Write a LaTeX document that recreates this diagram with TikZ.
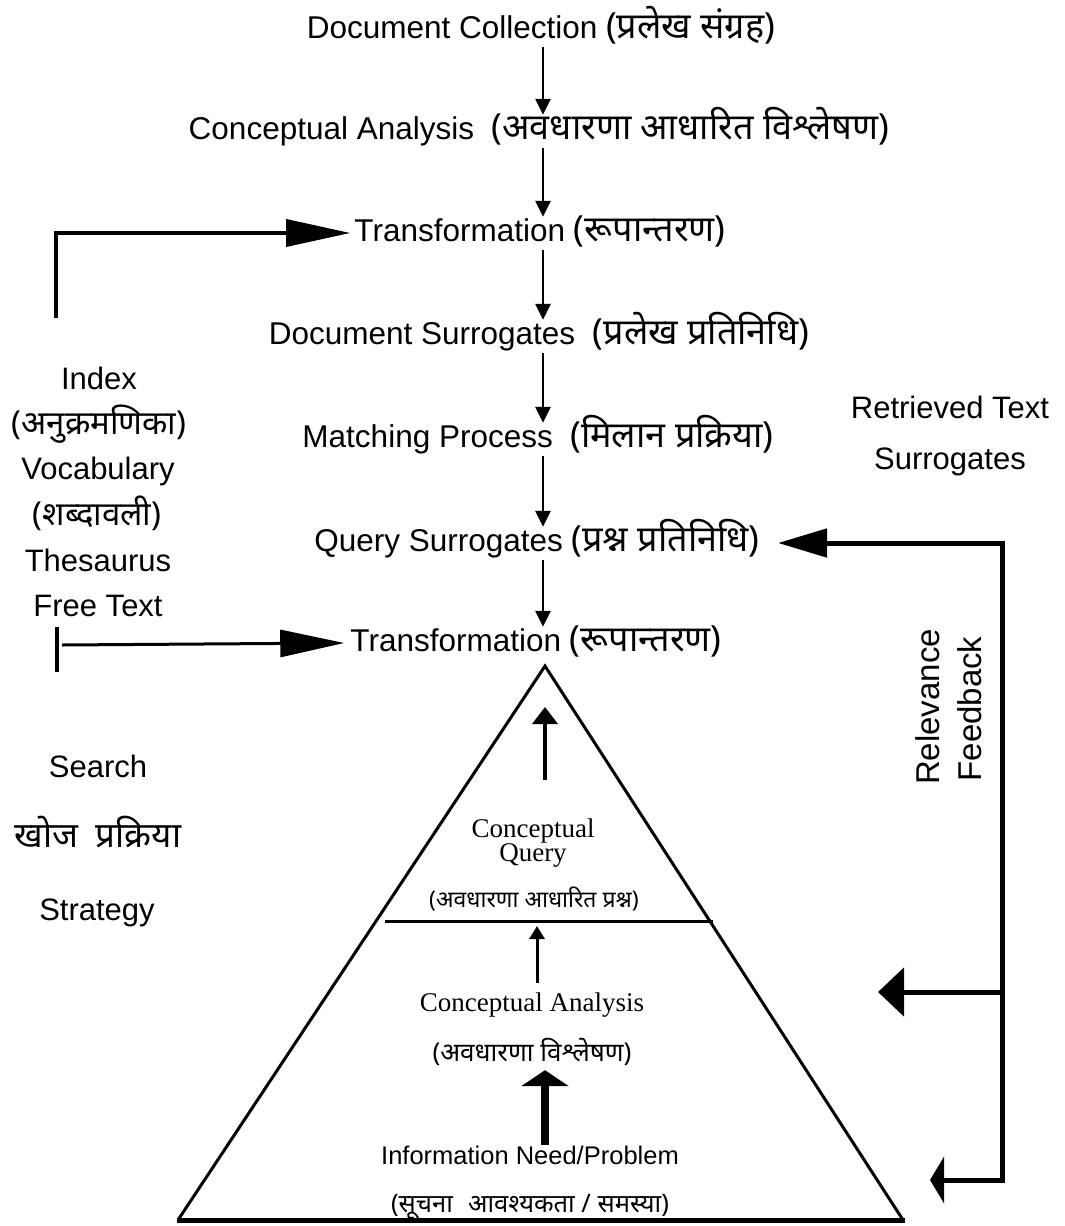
\documentclass[tikz,border=0pt]{standalone}
\usepackage{fontspec}
\setmainfont{Liberation Sans}
\newfontfamily\dev[Script=Devanagari]{Noto Sans}
\newfontfamily\rmserif{Liberation Serif}
\usetikzlibrary{arrows.meta}
% Devanagari part of a bilingual label, set a little larger than the Latin part
\newcommand\hin[1]{{\fontsize{36}{40}\selectfont\dev #1}}

\begin{document}
\begin{tikzpicture}[x=1pt,y=-1pt,
  lbl/.style={inner sep=0pt, font=\fontsize{31.5}{36}\selectfont, text height=23pt, text depth=7pt},
  side/.style={inner sep=0pt, font=\fontsize{31}{36}\selectfont, text height=23pt, text depth=7pt},
  sideh/.style={inner sep=0pt, font=\fontsize{33}{38}\selectfont\dev, text height=23pt, text depth=7pt},
  spine/.style={line width=2.5pt, -{Triangle[length=16pt,width=15pt]}, shorten <=2pt, shorten >=1pt},
  bigarrow/.style={line width=3.5pt, -{Triangle[length=64pt,width=27pt]}},
  fbline/.style={line width=5pt},
  pyr/.style={line width=3pt},
]
\path[use as bounding box] (0,0) rectangle (1065,1226);
\coordinate (axis) at (543,0);

% central processing chain
\node[lbl] (dc)  at (541,30)  {Document Collection \hin{(प्रलेख संग्रह)}};
\node[lbl] (ca)  at (539,131) {Conceptual Analysis \ \hin{(अवधारणा आधारित विश्लेषण)}};
\node[lbl] (tr1) at (540,233) {Transformation \hin{(रूपान्तरण)}};
\node[lbl] (ds)  at (539,336) {Document Surrogates \ \hin{(प्रलेख प्रतिनिधि)}};
\node[lbl] (mp)  at (538,439) {Matching Process \ \hin{(मिलान प्रक्रिया)}};
\node[lbl] (qs)  at (537,543) {Query Surrogates \hin{(प्रश्न प्रतिनिधि)}};
\node[lbl] (tr2) at (536,643) {Transformation \hin{(रूपान्तरण)}};

\draw[spine] (dc.south -| axis) -- (ca.north -| axis);
\draw[spine] (ca.south -| axis) -- (tr1.north -| axis);
\draw[spine] (tr1.south -| axis) -- (ds.north -| axis);
\draw[spine] (ds.south -| axis) -- (mp.north -| axis);
\draw[spine] (mp.south -| axis) -- (qs.north -| axis);
\draw[spine] (qs.south -| axis) -- (tr2.north -| axis);

% left column: indexing languages
\node[side]  (idx)  at (99,381) {Index};
\node[sideh] (idxh) at (99,426) {(अनुक्रमणिका)};
\node[side]  (voc)  at (98,471) {Vocabulary};
\node[sideh] (voch) at (97,517) {(शब्दावली)};
\node[side]  (ths)  at (98,563) {Thesaurus};
\node[side]  (ftx)  at (98,608) {Free Text};

\coordinate (ltop) at (56,318);
\draw[bigarrow, line join=miter] (ltop) -- (ltop |- tr1.west) -- ([xshift=-4pt]tr1.west);

\coordinate (tk) at (57,645);
\draw[line width=3.5pt] ([yshift=18pt]tk) -- ([yshift=-27pt]tk);
\draw[bigarrow, line width=3pt] ([xshift=5pt]tk) -- ([xshift=-6pt]tr2.west);

% left column: search strategy
\node[side]  (srch) at (98,769) {Search};
\node[sideh, font=\fontsize{35}{40}\selectfont\dev] (khoj) at (98,839) {खोज\hspace{0.5em}प्रक्रिया};
\node[side]  (strt) at (97,912) {Strategy};

% right side: retrieved surrogates and relevance feedback
\node[side] (rt1) at (950,410) {Retrieved Text};
\node[side] (rt2) at (950,461) {Surrogates};
\node[side, font=\fontsize{33}{38}\selectfont, rotate=90] (rel) at (931,707) {Relevance};
\node[side, font=\fontsize{33}{38}\selectfont, rotate=90] (fdb) at (973,709) {Feedback};

\coordinate (fbtop) at (1002,543);
\coordinate (fbmid) at (1002,992);
\coordinate (fbbot) at (1002,1180);
\coordinate (qtip) at (778,543);
\coordinate (tipA) at (878,992);
\coordinate (tipB) at (930,1180);
\draw[fbline, line join=miter, -{Triangle[length=49pt,width=28pt]}]
  ([yshift=-2.5pt]fbbot) -- (fbtop) -- (qtip);
\draw[fbline, -{Triangle[length=26pt,width=48pt]}] (fbmid) -- (tipA);
\draw[fbline, -{Triangle[length=14pt,width=46pt]}] (fbbot) -- (tipB);

% query formulation pyramid
\coordinate (apex) at (545,666);
\coordinate (bl) at (178,1220);
\coordinate (br) at (903,1220);
\coordinate (mlL) at (385,921);
\coordinate (mlR) at (713,921);
\draw[pyr, line join=miter] (bl) -- (apex) -- (br);
\draw[line width=5pt] ([xshift=-1pt]bl) -- ([xshift=2pt]br);
\draw[pyr] (mlL) -- (mlR);

\node[inner sep=0pt, font=\fontsize{27}{15}\selectfont\rmserif, align=center] (cq) at (533,843) {Conceptual\\Query};
\node[inner sep=0pt, font=\fontsize{23}{27}\selectfont\dev, text height=16pt, text depth=5pt] (cqh) at (534,902) {(अवधारणा आधारित प्रश्न)};
\node[inner sep=0pt, font=\fontsize{27}{31}\selectfont\rmserif, text height=18pt, text depth=6pt] (can) at (532,1005) {Conceptual Analysis};
\node[inner sep=0pt, font=\fontsize{26}{30}\selectfont\dev, text height=18pt, text depth=6pt] (canh) at (532,1055) {(अवधारणा विश्लेषण)};
\node[inner sep=0pt, font=\fontsize{25.5}{30}\selectfont, text height=18pt, text depth=6pt] (inp) at (530,1158) {Information Need/Problem};
\node[inner sep=0pt, font=\fontsize{25.5}{30}\selectfont\dev, text height=18pt, text depth=6pt] (inph) at (530,1206) {(सूचना\hspace{0.6em}आवश्यकता / समस्या)};

\draw[line width=4pt, -{Triangle[length=17pt,width=25pt]}, shorten <=38pt, shorten >=41pt]
  (cq.north -| apex) -- (apex);
\draw[line width=3pt, -{Triangle[length=13pt,width=15pt]}, shorten <=10pt, shorten >=5pt]
  ([xshift=5pt]can.north) -- ([xshift=5pt]can.north |- mlL);
\draw[line width=8pt, -{Triangle[length=16pt,width=47pt]}, shorten <=1pt, shorten >=3pt]
  (inp.north -| apex) -- (canh.south -| apex);
\end{tikzpicture}
\end{document}
